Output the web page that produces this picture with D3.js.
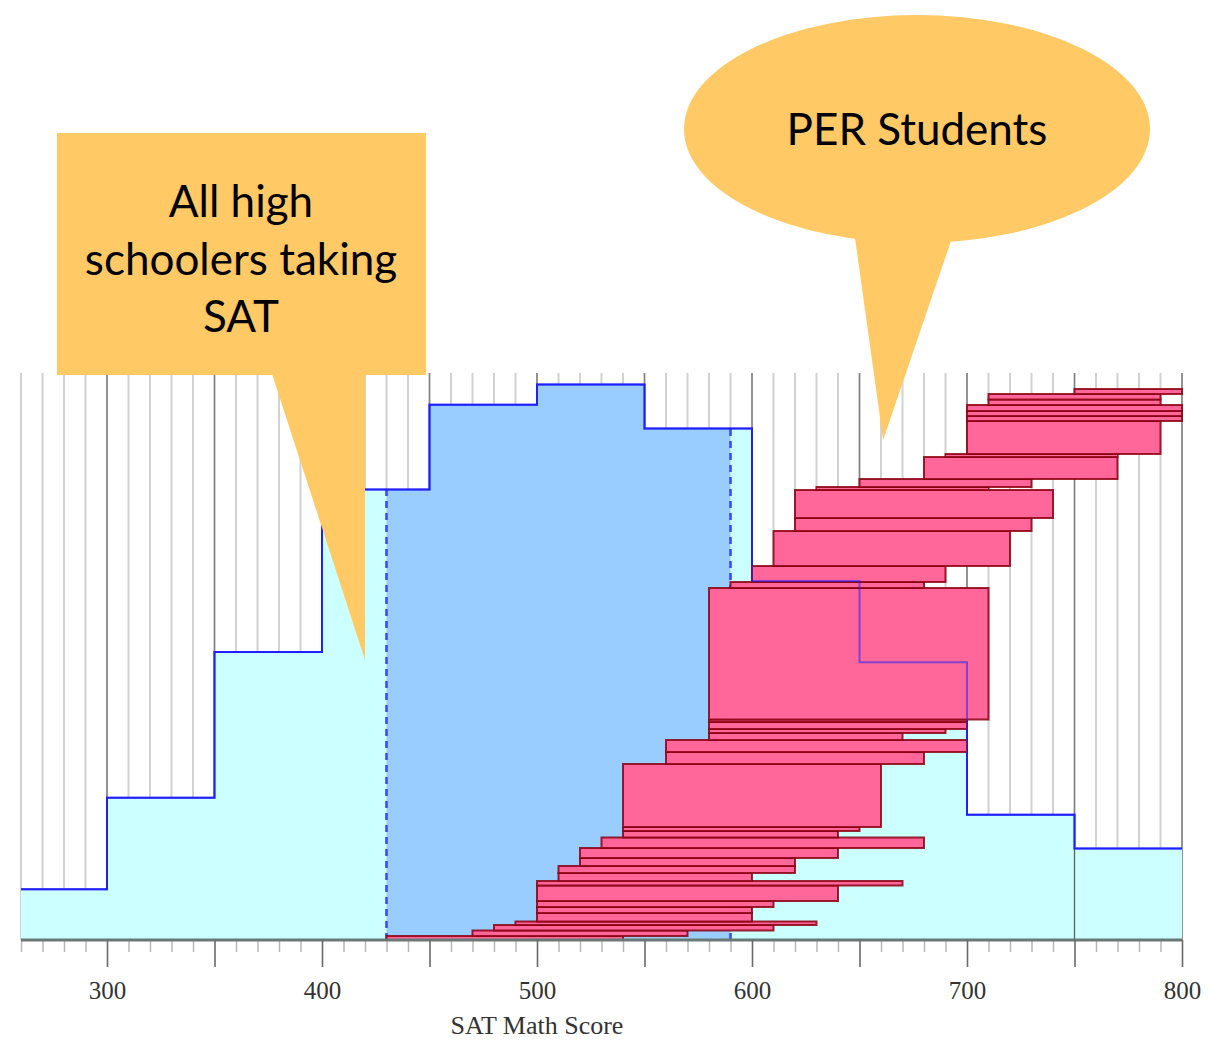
<!DOCTYPE html>
<html><head><meta charset="utf-8">
<script src="https://cdn.jsdelivr.net/npm/d3@7"></script>
<style>body{margin:0;background:#fff}svg{display:block}</style>
</head><body>
<svg id="chart" width="1212" height="1041"></svg>
<script>
// ---------- data ----------
const binStarts = [260, 300, 350, 400, 450, 500, 550, 600, 650, 700, 750];
const binEnd = 800;
const satPercent = [1.5, 4.2, 8.5, 13.3, 15.8, 16.4, 15.1, 10.6, 8.2, 3.7, 2.7];
const middleRange = [430, 590];

// PER student samples, listed bottom to top: score range low/high and sample size
const perLow  = [430,470,480,490,500,500,500,500,500,510,510,520,520,530,540,540,540,560,560,580,580,580,580,580,590,600,610,620,620,630,650,680,690,700,700,700,700,710,710,750];
const perHigh = [540,570,610,630,600,600,610,640,670,600,620,620,640,680,640,650,660,680,700,670,690,700,700,710,680,690,720,730,740,710,730,770,770,790,800,800,800,790,790,800];
const perN    = [40,55,55,35,85,60,60,155,45,80,70,80,100,105,65,40,630,120,120,70,40,70,25,1315,60,160,350,130,280,30,80,220,30,330,50,50,60,55,55,50];

const xTickLabels = [300, 400, 500, 600, 700, 800];
const axisTitle = "SAT Math Score";
const calloutLeftLines = ["All high", "schoolers taking", "SAT"];
const calloutRightText = "PER Students";

// ---------- scales ----------
const svg = d3.select("#chart");
const x = d3.scaleLinear().domain([260, 800]).range([21, 1182]);
const yHist = d3.scaleLinear().domain([0, 16.74]).range([940, 373]);
const yPer = d3.scaleLinear().domain([0, 5670]).range([940, 373]);

// ---------- grid ----------
const gridVals = d3.range(260, 801, 10);
svg.append("g").selectAll("line").data(gridVals).join("line")
  .attr("x1", d => x(d)).attr("x2", d => x(d))
  .attr("y1", yHist(16.74)).attr("y2", yHist(0))
  .attr("stroke", d => d % 50 === 0 ? "#808080" : "#d2d2d2")
  .attr("stroke-width", d => d % 50 === 0 ? 1.7 : 2);

// ---------- histogram ----------
const histPts = binStarts.map((b, i) => [b, satPercent[i]]).concat([[binEnd, satPercent[satPercent.length - 1]]]);
const area = d3.area().curve(d3.curveStepAfter)
  .x(d => x(d[0])).y0(yHist(0)).y1(d => yHist(d[1]));
const stepLine = d3.line().curve(d3.curveStepAfter)
  .x(d => x(d[0])).y(d => yHist(d[1]));

svg.append("defs").append("clipPath").attr("id", "mid")
  .append("rect").attr("x", x(middleRange[0])).attr("width", x(middleRange[1]) - x(middleRange[0]))
  .attr("y", 0).attr("height", 1041);

svg.append("path").datum(histPts).attr("d", area).attr("fill", "#ccffff");
svg.append("path").datum(histPts).attr("d", area).attr("fill", "#99ccff").attr("clip-path", "url(#mid)");

const valAt = s => satPercent[d3.bisectRight(binStarts, s) - 1];

// separator at 750
svg.append("line").attr("x1", x(750)).attr("x2", x(750))
  .attr("y1", yHist(0)).attr("y2", yHist(valAt(750)))
  .attr("stroke", "#606060").attr("stroke-width", 1.3);

// dashed quartile lines
svg.append("g").selectAll("line").data(middleRange).join("line")
  .attr("x1", d => x(d)).attr("x2", d => x(d))
  .attr("y1", yHist(0)).attr("y2", d => yHist(valAt(d)))
  .attr("stroke", "#3a4cff").attr("stroke-width", 2.6).attr("stroke-dasharray", "7,5");

svg.append("path").datum(histPts).attr("d", stepLine)
  .attr("fill", "none").attr("stroke", "#2020ff").attr("stroke-width", 2);

// ---------- PER bars ----------
let cum = 0;
const bars = perN.map((n, i) => { const b = {lo: perLow[i], hi: perHigh[i], s: cum, e: cum + n}; cum += n; return b; });
svg.append("g").selectAll("rect").data(bars).join("rect")
  .attr("x", d => x(d.lo)).attr("width", d => x(d.hi) - x(d.lo))
  .attr("y", d => yPer(d.e)).attr("height", d => yPer(d.s) - yPer(d.e))
  .attr("fill", "#ff6699").attr("stroke", "#8b0010").attr("stroke-opacity", 0.85).attr("stroke-width", 2);

svg.append("path").datum(histPts).attr("d", stepLine)
  .attr("fill", "none").attr("stroke", "#2020ff").attr("stroke-width", 2).attr("stroke-opacity", 0.55);

// ---------- axis ----------
const axisG = svg.append("g").attr("transform", `translate(0,${yHist(0)})`);
axisG.append("g").call(d3.axisBottom(x).tickValues(gridVals.filter(v => v % 50 !== 0)).tickSize(12).tickSizeOuter(0).tickFormat(""))
  .call(g => g.select(".domain").remove())
  .call(g => g.selectAll(".tick line").attr("stroke", "#b8b8b8").attr("stroke-width", 1.5));
axisG.append("g").call(d3.axisBottom(x).tickValues(d3.range(300, 801, 50)).tickSize(27).tickSizeOuter(0).tickPadding(14)
    .tickFormat(d => xTickLabels.includes(d) ? d : ""))
  .call(g => g.select(".domain").attr("stroke", "#6a7878").attr("stroke-width", 3))
  .call(g => g.selectAll(".tick line").attr("stroke", "#6a6a6a").attr("stroke-width", 1.6))
  .call(g => g.selectAll(".tick text").attr("fill", "#333").attr("font-family", "Liberation Serif, serif").attr("font-size", 25));
axisG.select(".domain").attr("d", `M${x(260)},0H${x(800)}`);

svg.append("text").attr("x", x(500)).attr("y", 1034).attr("text-anchor", "middle")
  .attr("font-family", "Liberation Serif, serif").attr("font-size", 26).attr("fill", "#333").text(axisTitle);

// ---------- callouts ----------
const callFill = "#ffc966";
// left rectangular callout
const lTip = [x(420), yHist(8.27)];
svg.append("rect").attr("x", 57).attr("y", 133).attr("width", 369).attr("height", 242).attr("fill", callFill);
svg.append("path").attr("d", `M272,374L365,374L${lTip[0]},${lTip[1]}Z`).attr("fill", callFill);
svg.append("g").selectAll("text").data(calloutLeftLines).join("text")
  .attr("x", 241).attr("y", (d, i) => 217 + i * 57.5).attr("text-anchor", "middle")
  .attr("font-family", "Lato, sans-serif").attr("font-size", 44).attr("fill", "#000").text(d => d);

// right oval callout
const rTip = [x(661), 440];
svg.append("ellipse").attr("cx", 917).attr("cy", 129).attr("rx", 233).attr("ry", 114).attr("fill", callFill);
svg.append("path").attr("d", `M855,238L952,238L${rTip[0]},${rTip[1]}Z`).attr("fill", callFill);
svg.append("text").attr("x", 917).attr("y", 145).attr("text-anchor", "middle")
  .attr("font-family", "Lato, sans-serif").attr("font-size", 44).attr("fill", "#000").text(calloutRightText);
</script>
</body></html>
